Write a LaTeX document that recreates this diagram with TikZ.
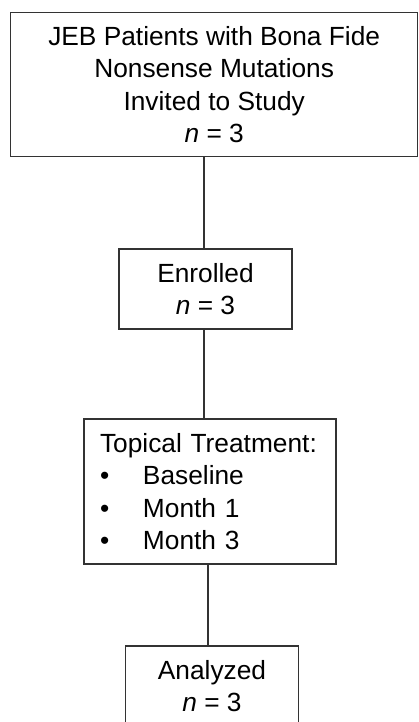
\documentclass[tikz,border=0pt]{standalone}
\usepackage{fontspec}
\setmainfont{Liberation Sans}
\begin{document}
\begin{tikzpicture}[x=1pt,y=-1pt,
  box/.style={draw=black!80, line width=1.3pt, rectangle, inner sep=0pt, align=center,
    font=\fontsize{26.3}{32.5}\selectfont},
  link/.style={draw=black!80, line width=1.2pt}]
\useasboundingbox (0,0) rectangle (419,722);
\clip (0,0) rectangle (419,722);
\fill[white] (0,0) rectangle (419,722);
\node[box, minimum width=407pt, minimum height=144.4pt] (invited) at (214.2,84.5)
  {JEB Patients with Bona Fide\\Nonsense Mutations\\Invited to Study\\\textit{n} = 3};
\node[box, minimum width=173pt, minimum height=80pt] (enrolled) at (205.5,289)
  {Enrolled\\\textit{n} = 3};
\node[box, minimum width=252pt, minimum height=145pt, text width=220pt, align=left, inner xsep=16pt] (treat) at (210,491.5)
  {Topical Treatment:\\\makebox[43pt][l]{•}Baseline\\\makebox[43pt][l]{•}Month 1\\\makebox[43pt][l]{•}Month 3};
\node[box, minimum width=172.6pt, minimum height=80pt] (analyzed) at (212,686)
  {Analyzed\\\textit{n} = 3};
\draw[link] (invited.south -| 204,0) -- (enrolled.north -| 204,0);
\draw[link] (enrolled.south -| 204,0) -- (treat.north -| 204,0);
\draw[link] (treat.south -| 208,0) -- (analyzed.north -| 208,0);
\end{tikzpicture}
\end{document}
